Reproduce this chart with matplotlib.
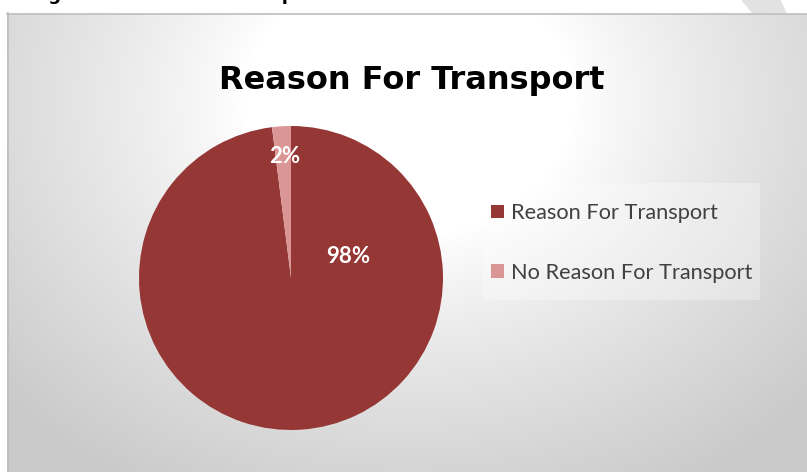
import matplotlib

matplotlib.use("Agg")

import matplotlib.pyplot as plt
import numpy as np
from matplotlib.patches import Polygon, Rectangle

W, H = 807, 472

labels = ["Reason For Transport", "No Reason For Transport"]
values = [98, 2]
colors = ["#953735", "#D99694"]

# label anchor positions in pie data units
label_pos = [(0.375, 0.14), (-0.04, 0.80)]


def px(x, y):
    """Pixel (top-left origin) to figure fraction."""
    return x / W, 1 - y / H


fig = plt.figure(figsize=(W / 100, H / 100), dpi=100)

# background: radial grey gradient behind the chart area
bg = fig.add_axes([0, 0, 1, 1])
bg.set_xlim(0, W)
bg.set_ylim(H, 0)
bg.axis("off")
yy, xx = np.mgrid[0:H, 0:W]
r = np.hypot((xx - 405) / 1.2, (yy - 90))
t = np.clip((r - 140) / 320, 0, 1) ** 0.85
shade = 1 - t * (1 - 0.79)
img = np.dstack([shade, shade, shade])
bg.imshow(img, extent=(7, W, H, 13), origin="upper", zorder=0, aspect="auto")
bg.add_patch(Rectangle((0, 0), W, 13, color="white", zorder=1))
bg.plot([7, W], [13.5, 13.5], color="#bdbdbd", lw=1.2, zorder=2)
bg.plot([7.5, 7.5], [13, H], color="#bdbdbd", lw=1.2, zorder=2)
bg.add_patch(Polygon([(742, 0), (780, 0), (786, 13), (753, 13)],
                     closed=True, color="#e2e2e2", zorder=1))
bg.add_patch(Rectangle((483, 183), 277, 117, facecolor="white", alpha=0.3,
                       edgecolor="none", zorder=1))

# caption line above, cut by the page edge
bg.text(30, 0.5, "Figure: Reason For Transport", fontsize=13, fontweight="bold",
        color="black", ha="left", va="baseline", zorder=3)

fig.text(*px(412, 81), "Reason For Transport", fontsize=23, fontweight="bold",
         family="DejaVu Sans", ha="center", va="center", color="black")

cx, cy, rad = 291, 278, 152
x0, y0 = px(cx - rad, cy + rad)
ax = fig.add_axes([x0, y0, 2 * rad / W, 2 * rad / H])
wedges, _ = ax.pie(values, colors=colors, startangle=90, counterclock=False,
                   wedgeprops=dict(linewidth=0))
ax.set_xlim(-1, 1)
ax.set_ylim(-1, 1)
ax.set_aspect("equal")

total = sum(values)
for v, (lx, ly) in zip(values, label_pos):
    ax.text(lx, ly, f"{round(100 * v / total)}%", color="white", fontsize=16,
            fontweight="bold", family="Lato", ha="center", va="center")

leg = fig.legend(wedges, labels, loc="center left", bbox_to_anchor=px(480, 243),
                 frameon=False, handlelength=0.58, handleheight=0.58,
                 handletextpad=0.32, labelspacing=1.8, borderpad=0,
                 prop={"family": "Lato", "size": 15.7})
for txt in leg.get_texts():
    txt.set_color("#404040")

fig.savefig("out.png", dpi=100)
